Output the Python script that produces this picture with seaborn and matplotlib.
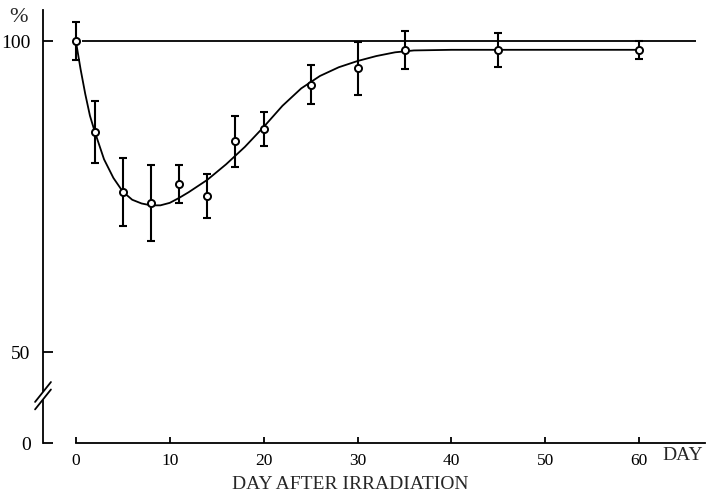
import matplotlib
matplotlib.use("Agg")
import matplotlib.pyplot as plt
import seaborn as sns
import pandas as pd

# measured points (day after irradiation, % of control, error)
days = [0, 2, 5, 8, 11, 14, 17, 20, 25, 30, 35, 45, 60]
means = [100, 85.4, 75.7, 74.0, 77.0, 75.1, 83.9, 85.9, 93.0, 95.6, 98.6, 98.6, 98.6]
errs = [3.1, 5.0, 5.5, 6.1, 3.1, 3.5, 4.1, 2.7, 3.1, 4.2, 3.1, 2.7, 1.4]

# hand drawn recovery curve
curve_days = [0, 0.5, 1, 1.5, 2, 3, 4, 5, 6, 7, 8, 9, 10, 11, 12, 14, 16, 18,
              20, 22, 24, 26, 28, 30, 32, 34, 36, 40, 50, 60]
curve_vals = [100, 95.5, 91.5, 88.0, 85.5, 81.0, 78.0, 75.8, 74.5, 73.9, 73.6,
              73.6, 74.0, 74.8, 75.7, 77.7, 80.2, 83.0, 86.2, 89.6, 92.4, 94.4,
              95.8, 96.8, 97.6, 98.2, 98.5, 98.6, 98.6, 98.6]

control_level = 100
ytick_vals = ["0", "50", "100"]
xticks = [0, 10, 20, 30, 40, 50, 60]

pts = pd.DataFrame({"day": days, "pct": means, "err": errs})
curve = pd.DataFrame({"day": curve_days, "pct": curve_vals})

sns.set_style("ticks", {"xtick.direction": "in", "ytick.direction": "in",
                        "axes.edgecolor": "black", "xtick.color": "black",
                        "ytick.color": "black"})
plt.rcParams["font.family"] = ["Liberation Serif", "DejaVu Serif"]

fig = plt.figure(figsize=(7.08, 4.98), dpi=100)
W, H = 708, 498
ax = fig.add_axes([43 / W, 1 - 443 / H, (705 - 43) / W, (443 - 10) / H])

zero_pos = 35.4   # where "0" sits below the axis break
ax.set_xlim(-3.5, 67.0)
ax.set_ylim(zero_pos, 105)

lw = 1.3
sns.lineplot(data=curve, x="day", y="pct", ax=ax, color="black", lw=lw, zorder=2)
ax.hlines(control_level, 0.7, 66, color="black", lw=lw, zorder=2)
ax.errorbar(pts["day"], pts["pct"], yerr=pts["err"], fmt="none", ecolor="black",
            elinewidth=lw + 0.2, capsize=3, capthick=lw + 0.2, zorder=3)
sns.scatterplot(data=pts, x="day", y="pct", ax=ax, s=26, facecolor="white",
                edgecolor="black", linewidth=1.4, zorder=4)

# spines
sns.despine(ax=ax)
ax.spines["left"].set_linewidth(lw)
ax.spines["bottom"].set_linewidth(lw)
ax.spines["bottom"].set_bounds(0, 67.0)

ax.set_yticks([zero_pos, 50, 100])
ax.set_yticklabels(ytick_vals, fontsize=14)
ax.set_xticks(xticks)
ax.set_xticklabels([str(t) for t in xticks], fontsize=12.5)
ax.tick_params(axis="y", which="major", direction="in", length=7, width=lw,
               pad=9, color="black", left=True)
ax.tick_params(axis="x", which="major", direction="in", length=4, width=lw,
               pad=7, color="black", bottom=True)
ax.set_xlabel("")
ax.set_ylabel("")

# axis break on the y spine
brk = 43.0
tr = ax.get_yaxis_transform()
ax.plot([-0.004, 0.004], [brk - 0.5, brk + 0.5], transform=tr, color="white",
        lw=4, clip_on=False, zorder=5, solid_capstyle="butt")
for off in (-0.6, 0.6):
    ax.plot([-0.012, 0.012], [brk - 1.6 + off, brk + 1.6 + off], transform=tr,
            color="black", lw=lw, clip_on=False, zorder=6)

fig.text(18 / W, 1 - 17 / H, "%", fontsize=16, ha="center", va="center")
fig.text(683 / W, 1 - 455 / H, "DAY", fontsize=14, ha="center", va="center")
fig.text(350 / W, 1 - 484 / H, "DAY AFTER IRRADIATION", fontsize=14,
         ha="center", va="center")

fig.savefig("out.png", dpi=100)
